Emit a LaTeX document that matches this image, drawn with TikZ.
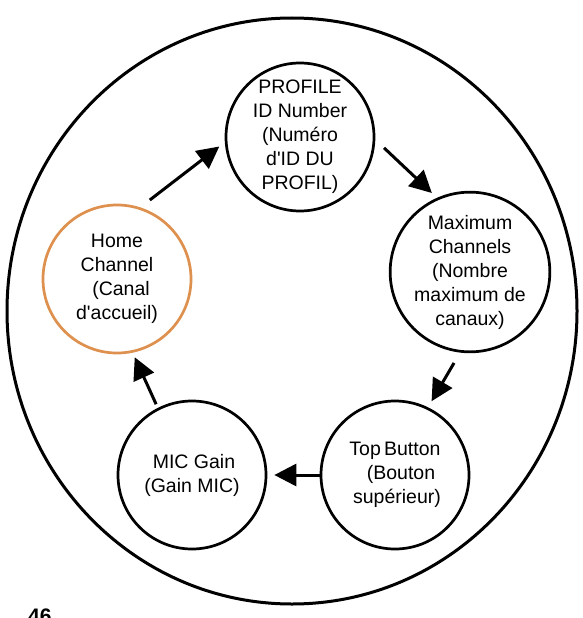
\documentclass[tikz,border=0pt]{standalone}
\usepackage{fontspec}
\setmainfont{Liberation Sans}
\usetikzlibrary{arrows.meta}
\definecolor{homeorange}{RGB}{222,145,78}
\begin{document}
\begin{tikzpicture}[x=1pt,y=-1pt,
  bub/.style={circle, draw=black, line width=2.7pt, minimum size=148pt, inner sep=0pt, align=center,
    font=\fontsize{19.5}{24}\selectfont},
  arr/.style={line width=3pt, -{Triangle[length=22pt,width=22pt]}, shorten <=12pt, shorten >=7pt}]
\useasboundingbox (0,0) rectangle (582,618);
\draw[line width=3pt] (292,311) ellipse [x radius=285pt, y radius=293pt];
\node[bub] (profile) at (300,137) {PROFILE\\ID Number\\(Numéro\\d\textquotesingle ID DU\\PROFIL)};
\node[bub, draw=homeorange] (home) at (117,279) {Home\\Channel\\\hspace*{8pt}(Canal\\d\textquotesingle accueil)};
\node[bub] (maxch) at (470,272) {Maximum\\Channels\\(Nombre\\maximum de\\canaux)};
\node[bub] (topbtn) at (395,475) {Top\,Button\\\hspace*{12pt}(Bouton\\\hspace*{4pt}supérieur)};
\node[bub] (mic) at (192,475) {\hspace*{4pt}MIC Gain\\(Gain MIC)};
\draw[arr] (home.72) -- (profile.184);
\draw[arr] (profile.-2) -- (maxch.114);
\draw[arr] (maxch.263) -- (topbtn.64);
\draw[arr, shorten <=0pt] (topbtn.180) -- (mic.0);
\draw[arr, shorten <=4pt, shorten >=5pt] (mic.117) -- (home.282);
\node[anchor=base west, inner sep=0pt, font=\fontsize{21}{24}\bfseries] (pagenum) at (28,623) {46};
\end{tikzpicture}
\end{document}
